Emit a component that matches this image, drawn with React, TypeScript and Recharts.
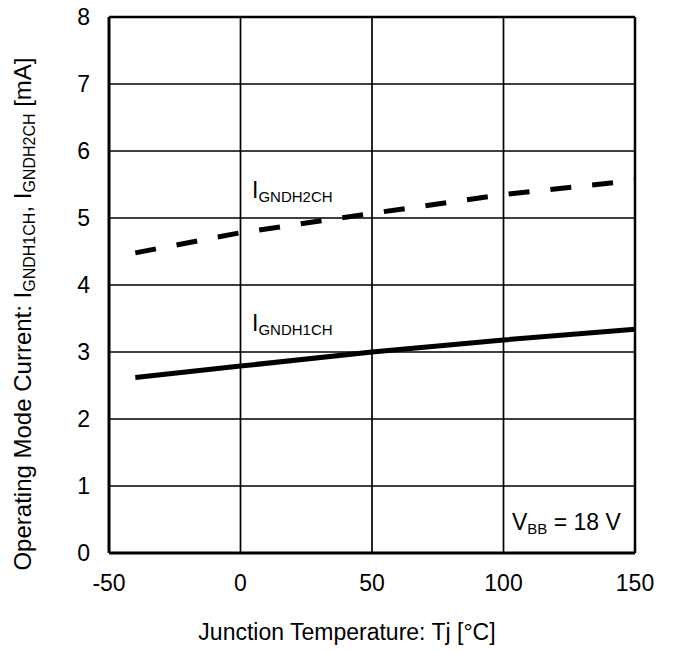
import React from 'react';
import { LineChart, Line, XAxis, YAxis, CartesianGrid, ReferenceLine, ReferenceDot } from 'recharts';

const temps = [-40, 0, 50, 100, 150];
const iGndh1ch = [2.62, 2.79, 3.0, 3.18, 3.34];
const iGndh2ch = [4.48, 4.78, 5.07, 5.35, 5.56];
const xTicks = [-50, 0, 50, 100, 150];
const yTicks = [0, 1, 2, 3, 4, 5, 6, 7, 8];

const data = temps.map((t, i) => ({ t, i1: iGndh1ch[i], i2: iGndh2ch[i] }));

const FONT = '"Liberation Sans", Arial, sans-serif';
const MAIN = 23;
const SUB = 15;

const subLabel = (main: string, sub: string, tail?: string) => (props: any) => {
  const vb = props.viewBox || {};
  const x = vb.x + (vb.width || 0) / 2;
  const y = vb.y + (vb.height || 0) / 2;
  return (
    <text x={x} y={y} fontFamily={FONT} fontSize={MAIN} fill="#000">
      <tspan>{main}</tspan>
      <tspan fontSize={SUB} dy={4}>{sub}</tspan>
      {tail ? <tspan dy={-4}>{tail}</tspan> : null}
    </text>
  );
};

const XTitle = (props: any) => {
  const vb = props.viewBox;
  const cx = vb.x + vb.width / 2 - 25;
  return (
    <text x={cx} y={vb.y + 87} textAnchor="middle" fontFamily={FONT} fontSize={MAIN} fill="#000">
      Junction Temperature: Tj [°C]
    </text>
  );
};

const YTitle = (props: any) => {
  const vb = props.viewBox;
  const x = 31;
  const y = vb.y + vb.height / 2 + 29;
  return (
    <text x={x} y={y} transform={`rotate(-90, ${x}, ${y})`} textAnchor="middle" fontFamily={FONT} fontSize={24} fill="#000">
      <tspan>Operating Mode Current: I</tspan>
      <tspan fontSize={16} dy={4}>GNDH1CH</tspan>
      <tspan dy={-4}>, I</tspan>
      <tspan fontSize={16} dy={4}>GNDH2CH</tspan>
      <tspan dy={-4}> [mA]</tspan>
    </text>
  );
};

export default function App() {
  return (
    <div style={{ position: 'absolute', left: 0, top: 0, background: '#fff' }}>
      <LineChart width={673} height={652} data={data} margin={{ top: 17, right: 38, left: 0, bottom: 0 }}>
        <CartesianGrid stroke="#000" strokeWidth={1.7} />
        <XAxis
          dataKey="t"
          type="number"
          domain={[-50, 150]}
          ticks={xTicks}
          height={99}
          tickLine={false}
          tickSize={0}
          tickMargin={22}
          axisLine={{ stroke: '#000', strokeWidth: 3 }}
          tick={{ fill: '#000', fontSize: MAIN, fontFamily: FONT }}
          label={{ content: XTitle }}
        />
        <YAxis
          type="number"
          domain={[0, 8]}
          ticks={yTicks}
          width={109}
          tickLine={false}
          tickSize={0}
          tickMargin={19}
          axisLine={{ stroke: '#000', strokeWidth: 3 }}
          tick={{ fill: '#000', fontSize: MAIN, fontFamily: FONT }}
          label={{ content: YTitle }}
        />
        <ReferenceLine y={8} stroke="#000" strokeWidth={2.5} />
        <ReferenceLine x={150} stroke="#000" strokeWidth={2.5} />
        <Line type="linear" dataKey="i1" stroke="#000" strokeWidth={5} dot={false} activeDot={false} isAnimationActive={false} />
        <Line type="linear" dataKey="i2" stroke="#000" strokeWidth={5} strokeDasharray="21 21" dot={false} activeDot={false} isAnimationActive={false} />
        <ReferenceDot x={4.4} y={5.3} r={0} fill="none" stroke="none" label={subLabel('I', 'GNDH2CH')} />
        <ReferenceDot x={4.4} y={3.31} r={0} fill="none" stroke="none" label={subLabel('I', 'GNDH1CH')} />
        <ReferenceDot x={103.2} y={0.34} r={0} fill="none" stroke="none" label={subLabel('V', 'BB', ' = 18 V')} />
      </LineChart>
    </div>
  );
}
